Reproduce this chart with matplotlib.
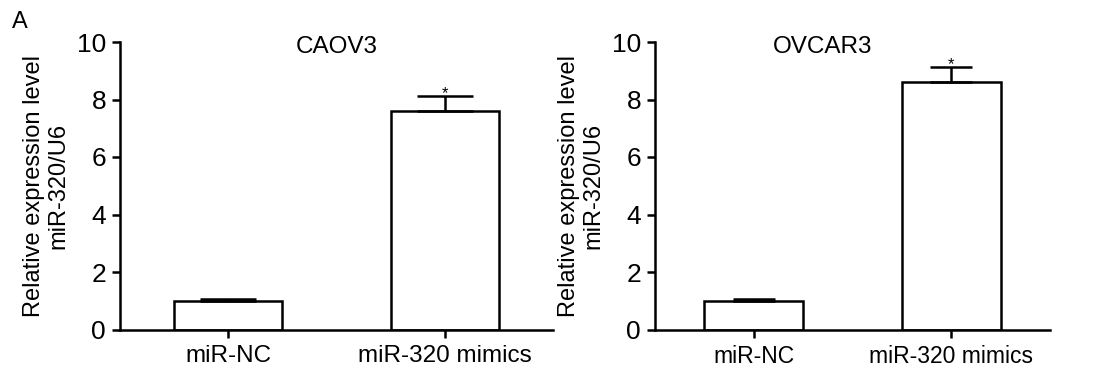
import matplotlib
matplotlib.use("Agg")
import matplotlib.pyplot as plt

plt.rcParams['font.family'] = ['Liberation Sans', 'DejaVu Sans']

categories = ["miR-NC", "miR-320 mimics"]
caov3_values = [0.99, 7.6]
caov3_errors = [0.07, 0.52]
ovcar3_values = [1.0, 8.62]
ovcar3_errors = [0.06, 0.5]
yticks = [0, 2, 4, 6, 8, 10]
ylabel = "Relative expression level\nmiR-320/U6"

fig = plt.figure(figsize=(11.13, 3.80), dpi=100)
ax1 = fig.add_axes([120/1113, 1-329.5/380, 433/1113, 287.5/380])
ax2 = fig.add_axes([655/1113, 1-329.5/380, 395/1113, 287.5/380])

def draw(ax, values, errors, title, title_x, xfs, cap):
    x = list(range(len(categories)))
    ax.bar(x, values, width=0.5, color='white', edgecolor='black', linewidth=1.8, zorder=2)
    ax.errorbar(x, values, yerr=[[0]*len(errors), errors], fmt='none', ecolor='black',
                elinewidth=1.8, capsize=cap, capthick=1.8, zorder=3)
    ax.text(1, values[1] + errors[1] - 0.08, '*', ha='center', va='baseline', fontsize=12)
    ax.set_xlim(-0.5, 1.5)
    ax.set_ylim(0, 10)
    ax.set_yticks(yticks)
    ax.set_xticks(x)
    ax.set_xticklabels(categories, fontsize=xfs)
    ax.tick_params(axis='y', labelsize=19, length=6, width=1.8, direction='out', pad=4)
    ax.tick_params(axis='x', length=6, width=1.8, direction='out', pad=5)
    for s in ['top', 'right']:
        ax.spines[s].set_visible(False)
    for s in ['left', 'bottom']:
        ax.spines[s].set_linewidth(1.8)
    ax.spines['left'].set_bounds(0, 10)
    ax.set_ylabel(ylabel, fontsize=17, labelpad=5, linespacing=1.15)
    ax.text(title_x, 9.83, title, ha='center', va='center', fontsize=17.5)

draw(ax1, caov3_values, caov3_errors, "CAOV3", 0.5, 17.5, 20)
draw(ax2, ovcar3_values, ovcar3_errors, "OVCAR3", 0.35, 16.5, 15)

fig.text(12/1113, 1-22/380, "A", fontsize=17, ha='left', va='center')

fig.savefig("out.png", dpi=100)
